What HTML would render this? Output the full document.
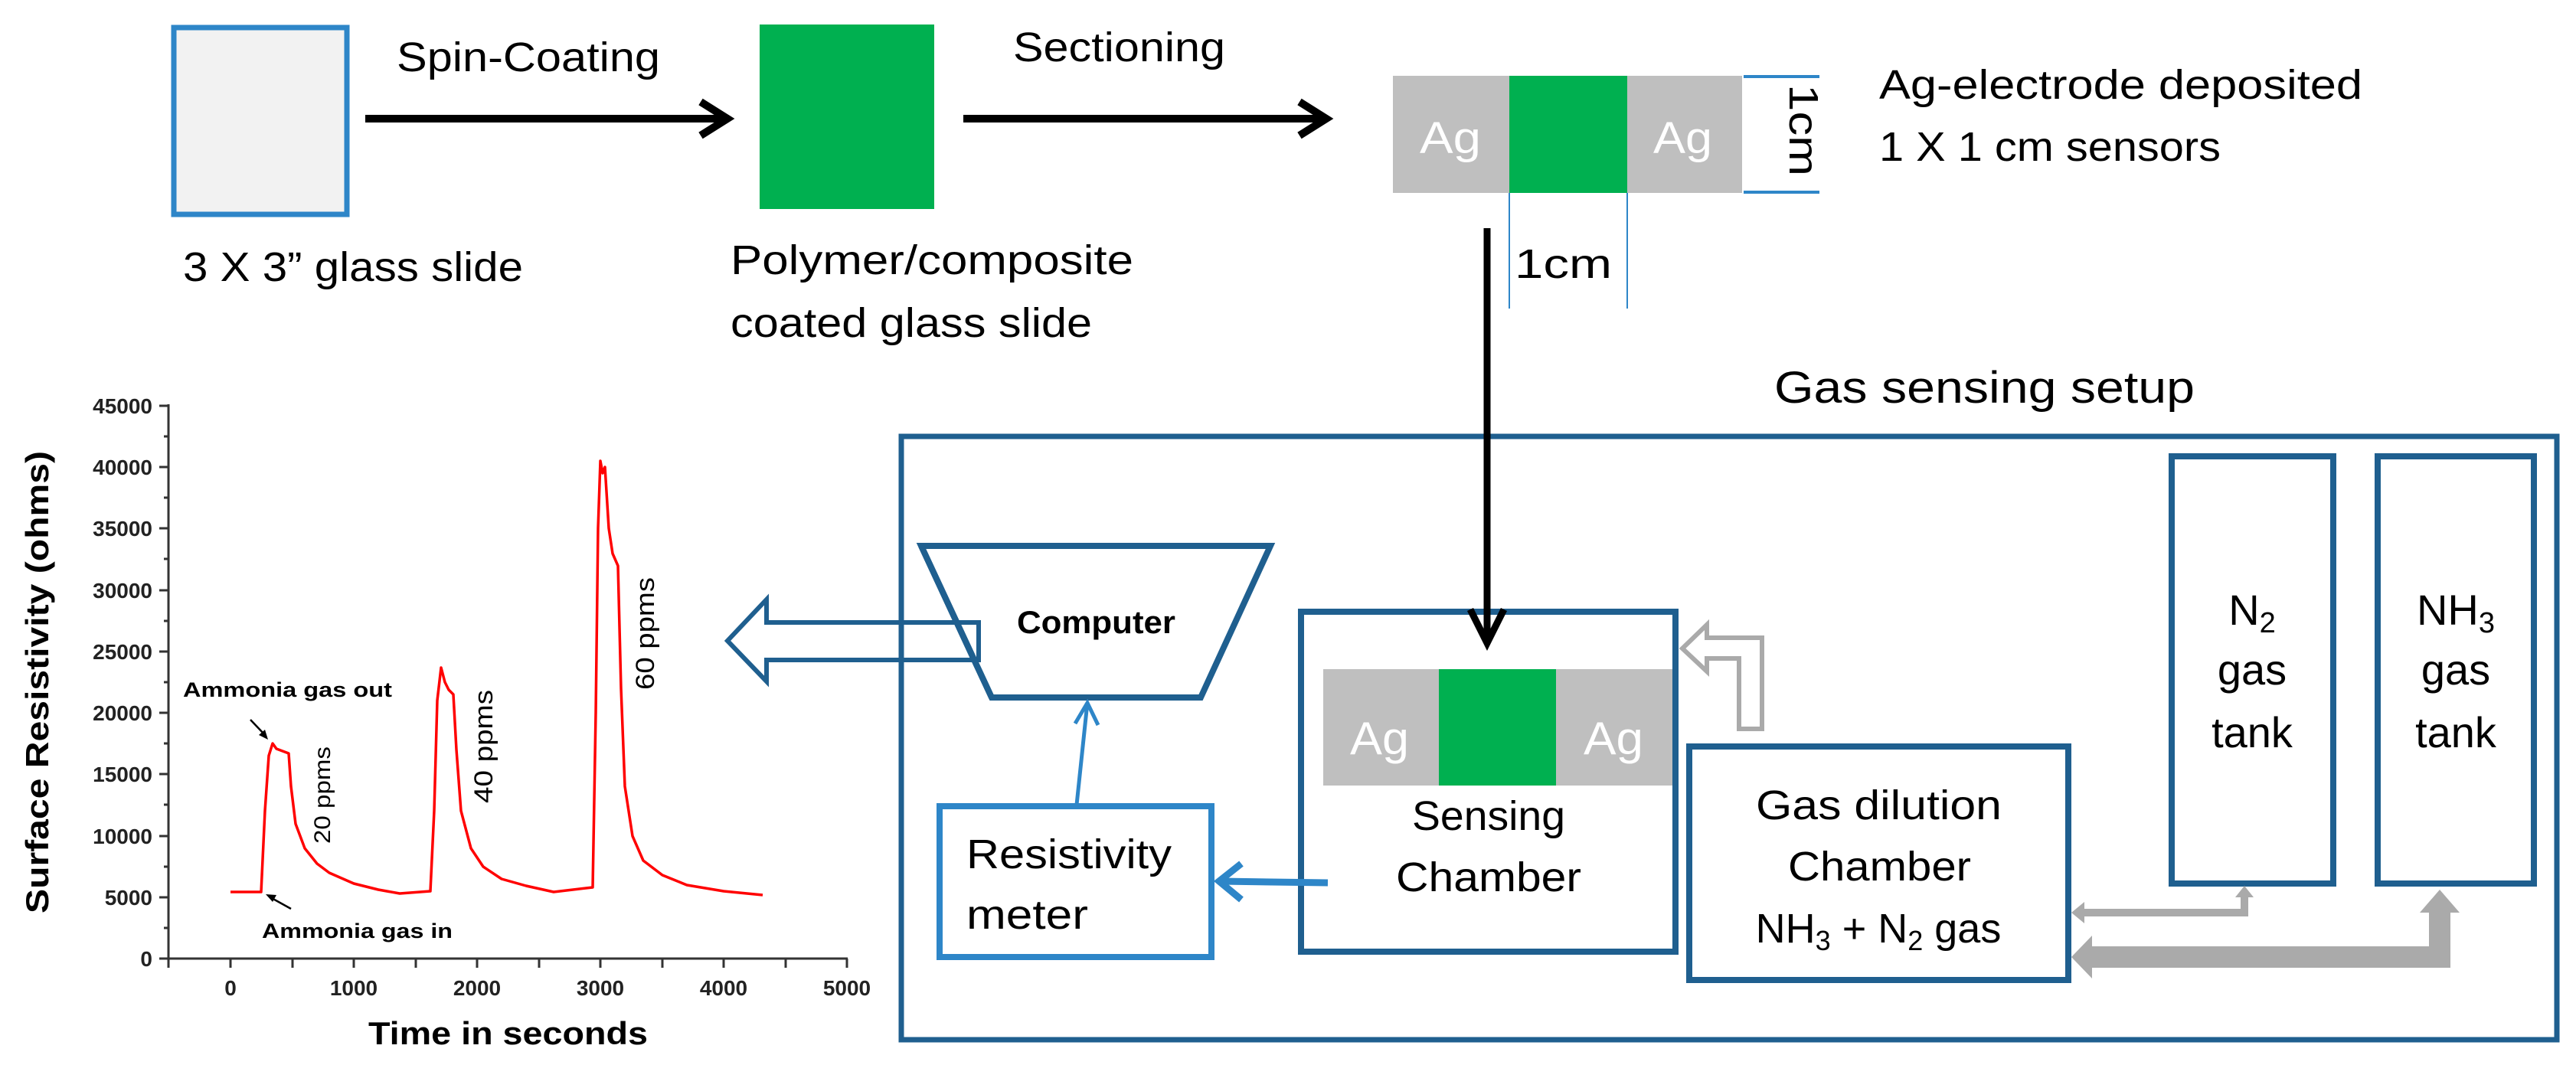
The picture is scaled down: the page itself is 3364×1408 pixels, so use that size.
<!DOCTYPE html>
<html><head><meta charset="utf-8"><style>
html,body{margin:0;padding:0;background:#fff}
svg{display:block}
text{font-family:"Liberation Sans",sans-serif}
</style></head><body>
<svg width="3364" height="1408" viewBox="0 0 3364 1408" xmlns="http://www.w3.org/2000/svg">
<!-- top row -->
<rect x="227" y="36" width="226" height="244" fill="#f2f2f2" stroke="#2e86c8" stroke-width="7"/>
<rect x="992" y="32" width="228" height="241" fill="#00b050"/>
<line x1="477" y1="155" x2="945" y2="155" stroke="#000" stroke-width="10"/>
<polyline points="915,133 950,155 915,177" fill="none" stroke="#000" stroke-width="10"/>
<line x1="1258" y1="155" x2="1725" y2="155" stroke="#000" stroke-width="10"/>
<polyline points="1697,133 1732,155 1697,177" fill="none" stroke="#000" stroke-width="10"/>
<text x="518" y="93" font-size="54" textLength="344" lengthAdjust="spacingAndGlyphs">Spin-Coating</text>
<text x="1323" y="80" font-size="54" textLength="277" lengthAdjust="spacingAndGlyphs">Sectioning</text>
<text x="239" y="367" font-size="54" textLength="444" lengthAdjust="spacingAndGlyphs">3 X 3” glass slide</text>
<text x="954" y="358" font-size="54" textLength="526" lengthAdjust="spacingAndGlyphs">Polymer/composite</text>
<text x="954" y="440" font-size="54" textLength="472" lengthAdjust="spacingAndGlyphs">coated glass slide</text>

<!-- sensor strip -->
<rect x="1819" y="99" width="456" height="153" fill="#bfbfbf"/>
<rect x="1971" y="99" width="154" height="153" fill="#00b050"/>
<text x="1854" y="200" font-size="58" fill="#fff" textLength="80" lengthAdjust="spacingAndGlyphs">Ag</text>
<text x="2159" y="200" font-size="58" fill="#fff" textLength="77" lengthAdjust="spacingAndGlyphs">Ag</text>
<line x1="2277" y1="100" x2="2376" y2="100" stroke="#2e86c8" stroke-width="4"/>
<line x1="2277" y1="251" x2="2376" y2="251" stroke="#2e86c8" stroke-width="4"/>
<text transform="translate(2337,110) rotate(90)" font-size="54" textLength="120" lengthAdjust="spacingAndGlyphs">1cm</text>
<line x1="1971" y1="252" x2="1971" y2="403" stroke="#2e86c8" stroke-width="2"/>
<line x1="2125" y1="252" x2="2125" y2="403" stroke="#2e86c8" stroke-width="2"/>
<text x="1978" y="363" font-size="54" textLength="127" lengthAdjust="spacingAndGlyphs">1cm</text>
<text x="2454" y="129" font-size="54" textLength="631" lengthAdjust="spacingAndGlyphs">Ag-electrode deposited</text>
<text x="2454" y="210" font-size="54" textLength="446" lengthAdjust="spacingAndGlyphs">1 X 1 cm sensors</text>
<text x="2317" y="526" font-size="58" textLength="549" lengthAdjust="spacingAndGlyphs">Gas sensing setup</text>

<!-- setup box -->
<rect x="1177" y="570" width="2162" height="788" fill="none" stroke="#1f5f8f" stroke-width="7"/>
<line x1="1942" y1="298" x2="1942" y2="838" stroke="#000" stroke-width="9"/>

<!-- computer -->
<polygon points="1203,713 1659,713 1568,911 1295,911" fill="#fff" stroke="#1f5f8f" stroke-width="8"/>
<text x="1328" y="827" font-size="42" font-weight="bold" textLength="207" lengthAdjust="spacingAndGlyphs">Computer</text>
<polygon points="1278,813 1001,813 1001,783 950,837 1001,890 1001,862 1278,862" fill="none" stroke="#1f5f8f" stroke-width="6"/>
<line x1="1203" y1="713" x2="1295" y2="911" stroke="#1f5f8f" stroke-width="8"/>

<!-- sensing chamber -->
<rect x="1699" y="799" width="489" height="444" fill="#fff" stroke="#1f5f8f" stroke-width="8"/>
<rect x="1728" y="874" width="456" height="152" fill="#bfbfbf"/>
<rect x="1879" y="874" width="153" height="152" fill="#00b050"/>
<text x="1763" y="985" font-size="60" fill="#fff" textLength="77" lengthAdjust="spacingAndGlyphs">Ag</text>
<text x="2068" y="985" font-size="60" fill="#fff" textLength="78" lengthAdjust="spacingAndGlyphs">Ag</text>
<text x="1844" y="1084" font-size="54" textLength="200" lengthAdjust="spacingAndGlyphs">Sensing</text>
<text x="1823" y="1164" font-size="54" textLength="242" lengthAdjust="spacingAndGlyphs">Chamber</text>
<line x1="1942" y1="780" x2="1942" y2="838" stroke="#000" stroke-width="9"/>
<polyline points="1920,796 1942,840 1964,796" fill="none" stroke="#000" stroke-width="9"/>

<!-- resistivity meter -->
<rect x="1227" y="1053" width="355" height="197" fill="#fff" stroke="#2e86c8" stroke-width="8"/>
<text x="1262" y="1134" font-size="54" textLength="268" lengthAdjust="spacingAndGlyphs">Resistivity</text>
<text x="1262" y="1213" font-size="54" textLength="159" lengthAdjust="spacingAndGlyphs">meter</text>
<line x1="1406" y1="1051" x2="1420" y2="918" stroke="#2e86c8" stroke-width="5"/>
<polyline points="1404,945 1420,918 1434,947" fill="none" stroke="#2e86c8" stroke-width="5"/>
<line x1="1734" y1="1153" x2="1594" y2="1151" stroke="#2e86c8" stroke-width="9"/>
<polyline points="1621,1128 1592,1151 1621,1175" fill="none" stroke="#2e86c8" stroke-width="9"/>

<!-- gray L arrow -->
<polygon points="2301,952 2301,833 2229,833 2229,816 2197,847 2229,877 2229,860 2271,860 2271,952" fill="none" stroke="#aaaaaa" stroke-width="6"/>

<!-- gas dilution -->
<rect x="2206" y="975" width="495" height="305" fill="#fff" stroke="#1f5f8f" stroke-width="8"/>
<text x="2293" y="1070" font-size="54" textLength="321" lengthAdjust="spacingAndGlyphs">Gas dilution</text>
<text x="2335" y="1150" font-size="54" textLength="239" lengthAdjust="spacingAndGlyphs">Chamber</text>
<text x="2453" y="1231" font-size="54" text-anchor="middle">NH<tspan font-size="36" dy="10">3</tspan><tspan dy="-10"> + N</tspan><tspan font-size="36" dy="10">2</tspan><tspan dy="-10"> gas</tspan></text>

<!-- tanks -->
<rect x="2836" y="596" width="211" height="558" fill="#fff" stroke="#1f5f8f" stroke-width="8"/>
<rect x="3105" y="596" width="204" height="558" fill="#fff" stroke="#1f5f8f" stroke-width="8"/>
<text x="2941" y="816" font-size="56" text-anchor="middle">N<tspan font-size="38" dy="10">2</tspan></text>
<text x="2941" y="894" font-size="56" text-anchor="middle">gas</text>
<text x="2941" y="976" font-size="56" text-anchor="middle">tank</text>
<text x="3207" y="816" font-size="56" text-anchor="middle">NH<tspan font-size="38" dy="10">3</tspan></text>
<text x="3207" y="894" font-size="56" text-anchor="middle">gas</text>
<text x="3207" y="976" font-size="56" text-anchor="middle">tank</text>

<!-- gray connector arrows -->
<polyline points="2718,1192 2931,1192 2931,1170" fill="none" stroke="#aaaaaa" stroke-width="10"/>
<polygon points="2705,1192 2722,1178 2722,1206" fill="#aaaaaa"/>
<polygon points="2931,1157 2919,1172 2943,1172" fill="#aaaaaa"/>
<polyline points="2725,1250 3186,1250 3186,1190" fill="none" stroke="#aaaaaa" stroke-width="28"/>
<polygon points="2705,1250 2732,1222 2732,1278" fill="#aaaaaa"/>
<polygon points="3186,1162 3160,1192 3212,1192" fill="#aaaaaa"/>

<!-- chart -->
<g stroke="#333" stroke-width="3" fill="none">
<line x1="220" y1="528" x2="220" y2="1253"/>
<line x1="219" y1="1252" x2="1107" y2="1252"/>
</g>
<g stroke="#333" stroke-width="3">
<line x1="208" y1="530" x2="220" y2="530"/><line x1="208" y1="610" x2="220" y2="610"/><line x1="208" y1="690" x2="220" y2="690"/><line x1="208" y1="771" x2="220" y2="771"/><line x1="208" y1="851" x2="220" y2="851"/><line x1="208" y1="931" x2="220" y2="931"/><line x1="208" y1="1011" x2="220" y2="1011"/><line x1="208" y1="1092" x2="220" y2="1092"/><line x1="208" y1="1172" x2="220" y2="1172"/><line x1="208" y1="1252" x2="220" y2="1252"/>
<line x1="214" y1="570" x2="220" y2="570"/><line x1="214" y1="650" x2="220" y2="650"/><line x1="214" y1="730" x2="220" y2="730"/><line x1="214" y1="811" x2="220" y2="811"/><line x1="214" y1="891" x2="220" y2="891"/><line x1="214" y1="971" x2="220" y2="971"/><line x1="214" y1="1051" x2="220" y2="1051"/><line x1="214" y1="1132" x2="220" y2="1132"/><line x1="214" y1="1212" x2="220" y2="1212"/>
<line x1="220" y1="1252" x2="220" y2="1264"/><line x1="301" y1="1252" x2="301" y2="1264"/><line x1="382" y1="1252" x2="382" y2="1264"/><line x1="462" y1="1252" x2="462" y2="1264"/><line x1="543" y1="1252" x2="543" y2="1264"/><line x1="623" y1="1252" x2="623" y2="1264"/><line x1="704" y1="1252" x2="704" y2="1264"/><line x1="784" y1="1252" x2="784" y2="1264"/><line x1="865" y1="1252" x2="865" y2="1264"/><line x1="945" y1="1252" x2="945" y2="1264"/><line x1="1026" y1="1252" x2="1026" y2="1264"/><line x1="1106" y1="1252" x2="1106" y2="1264"/>
</g>
<g font-size="28" font-weight="bold" text-anchor="end" fill="#222">
<text x="199" y="540">45000</text><text x="199" y="620">40000</text><text x="199" y="700">35000</text><text x="199" y="781">30000</text><text x="199" y="861">25000</text><text x="199" y="941">20000</text><text x="199" y="1021">15000</text><text x="199" y="1102">10000</text><text x="199" y="1182">5000</text><text x="199" y="1262">0</text>
</g>
<g font-size="28" font-weight="bold" text-anchor="middle" fill="#222">
<text x="301" y="1300">0</text><text x="462" y="1300">1000</text><text x="623" y="1300">2000</text><text x="784" y="1300">3000</text><text x="945" y="1300">4000</text><text x="1106" y="1300">5000</text>
</g>
<text transform="translate(63,1193) rotate(-90)" font-size="42" font-weight="bold" textLength="604" lengthAdjust="spacingAndGlyphs">Surface Resistivity (ohms)</text>
<text x="481" y="1364" font-size="42" font-weight="bold" textLength="365" lengthAdjust="spacingAndGlyphs">Time in seconds</text>
<polyline fill="none" stroke="#ff0000" stroke-width="3.5" stroke-linejoin="round" points="301,1165 341,1165 346,1059 351,987 356,971 361,978 369,981 377,984 380,1027 386,1076 398,1108 414,1128 430,1140 462,1154 494,1162 522,1167 562,1164 567,1059 571,915 576,872 581,891 586,901 592,907 596,979 602,1059 615,1108 631,1132 655,1148 687,1157 723,1165 774,1159 778,931 781,690 784,602 787,618 790,610 795,690 800,723 807,739 811,899 816,1027 826,1092 840,1124 865,1143 897,1156 945,1164 996,1169"/>
<!-- annotations -->
<text x="239" y="910" font-size="27" font-weight="bold" textLength="273" lengthAdjust="spacingAndGlyphs">Ammonia gas out</text>
<line x1="327" y1="940" x2="346" y2="960" stroke="#000" stroke-width="2.5"/>
<polygon points="350,966 338,960 346,953" fill="#000"/>
<text x="342" y="1225" font-size="27" font-weight="bold" textLength="249" lengthAdjust="spacingAndGlyphs">Ammonia gas in</text>
<line x1="380" y1="1187" x2="353" y2="1172" stroke="#000" stroke-width="2.5"/>
<polygon points="347,1168 361,1169 356,1178" fill="#000"/>
<text transform="translate(431,1102) rotate(-90)" font-size="30" textLength="127" lengthAdjust="spacingAndGlyphs">20 ppms</text>
<text transform="translate(643,1049) rotate(-90)" font-size="34" textLength="148" lengthAdjust="spacingAndGlyphs">40 ppms</text>
<text transform="translate(854,901) rotate(-90)" font-size="34" textLength="147" lengthAdjust="spacingAndGlyphs">60 ppms</text>
</svg>
</body></html>
